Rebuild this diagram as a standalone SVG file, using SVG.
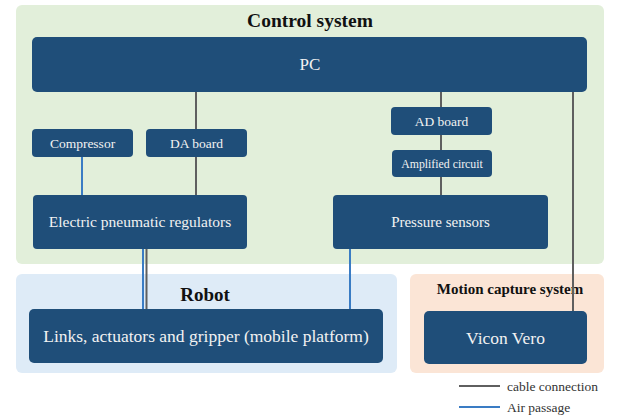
<svg xmlns="http://www.w3.org/2000/svg" width="622" height="419" viewBox="0 0 622 419">
<style>
.bg{stroke:none}
.node{fill:#1f4e79}
.nt{fill:#f2f2f2;font-family:'Liberation Serif','Times New Roman','DejaVu Serif',serif;text-anchor:middle}
.title{fill:#111;font-family:'Liberation Serif','Times New Roman','DejaVu Serif',serif;font-weight:bold;text-anchor:middle}
.cable{stroke:#5f5f5f;stroke-width:2;fill:none}
.air{stroke:#3a7cc4;stroke-width:2;fill:none}
.leg{fill:#333;font-family:'Liberation Serif','Times New Roman','DejaVu Serif',serif;font-size:13.5px}
</style>
<rect x="0" y="0" width="622" height="419" fill="#ffffff"/>
<g id="control-system">
<rect class="bg" x="16" y="5" width="588" height="259" rx="6" fill="#e2efda"/>
<text class="title" x="310" y="27" font-size="19.5">Control system</text>
</g>
<g id="robot-group">
<rect class="bg" x="16" y="274" width="381" height="99" rx="6" fill="#deebf7"/>
<text class="title" x="205" y="301" font-size="19">Robot</text>
</g>
<g id="motion-group">
<rect class="bg" x="410" y="274" width="194" height="99" rx="6" fill="#fbe5d6"/>
<text class="title" x="510" y="294" font-size="15">Motion capture system</text>
</g>
<g id="connectors">
<line class="cable" x1="196" y1="92" x2="196" y2="130"/>
<line class="cable" x1="196" y1="157" x2="196" y2="196"/>
<line class="air" x1="82" y1="157" x2="82" y2="196"/>
<line class="cable" x1="441" y1="92" x2="441" y2="107"/>
<line class="cable" x1="441" y1="135" x2="441" y2="150"/>
<line class="cable" x1="441" y1="177" x2="441" y2="196"/>
<line class="air" x1="143" y1="249" x2="143" y2="310"/>
<line class="cable" x1="146.5" y1="249" x2="146.5" y2="310"/>
<line class="air" x1="350" y1="249" x2="350" y2="310"/>
<line class="cable" x1="573" y1="92" x2="573" y2="312"/>
</g>
<g id="pc">
<rect class="node" x="32" y="37" width="555" height="55" rx="5"/>
<text class="nt" x="310" y="70" font-size="17">PC</text>
</g>
<g id="compressor">
<rect class="node" x="32" y="129" width="101" height="28" rx="4"/>
<text class="nt" x="82.5" y="147.5" font-size="13.5">Compressor</text>
</g>
<g id="da-board">
<rect class="node" x="146" y="129" width="101" height="28" rx="4"/>
<text class="nt" x="196.5" y="147.5" font-size="13.5">DA board</text>
</g>
<g id="ad-board">
<rect class="node" x="391" y="107" width="101" height="28" rx="4"/>
<text class="nt" x="441.5" y="125.5" font-size="13.5">AD board</text>
</g>
<g id="amplified-circuit">
<rect class="node" x="392" y="150" width="100" height="27" rx="4"/>
<text class="nt" x="442" y="167.5" font-size="11.8">Amplified circuit</text>
</g>
<g id="epr">
<rect class="node" x="33" y="195" width="214" height="54" rx="4"/>
<text class="nt" x="140" y="227" font-size="15.5">Electric pneumatic regulators</text>
</g>
<g id="pressure-sensors">
<rect class="node" x="333" y="195" width="215" height="54" rx="4"/>
<text class="nt" x="440.5" y="227" font-size="15">Pressure sensors</text>
</g>
<g id="links">
<rect class="node" x="29" y="309" width="354" height="54" rx="5"/>
<text class="nt" x="206" y="342" font-size="17.5">Links, actuators and gripper (mobile platform)</text>
</g>
<g id="vicon">
<rect class="node" x="424" y="311" width="163" height="53" rx="5"/>
<text class="nt" x="505.5" y="344" font-size="17.5">Vicon Vero</text>
</g>
<g id="legend">
<line class="cable" x1="459" y1="386" x2="500" y2="386"/>
<text class="leg" x="507" y="390.5">cable connection</text>
<line class="air" x1="459" y1="407" x2="500" y2="407"/>
<text class="leg" x="507" y="411.5">Air passage</text>
</g>
</svg>
